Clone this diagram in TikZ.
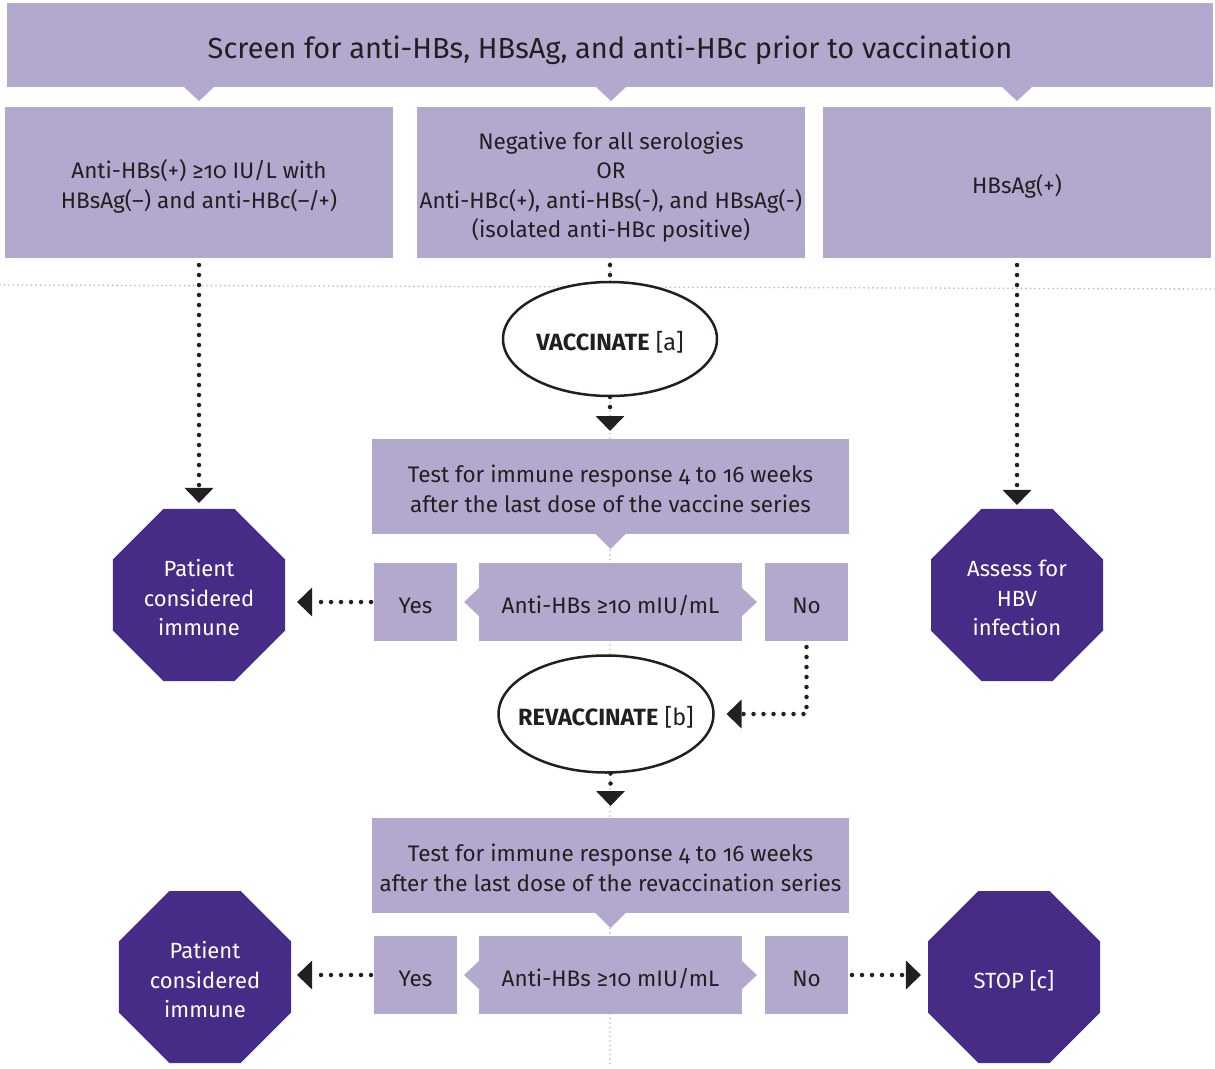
\documentclass[tikz,border=0pt]{standalone}
\usepackage{fontspec}
\setmainfont{Fira Sans}[Numbers=OldStyle]
\usetikzlibrary{shapes.geometric,arrows.meta,calc}
\definecolor{lp}{RGB}{179,169,206}
\definecolor{dp}{RGB}{70,44,135}
\definecolor{tx}{RGB}{35,31,32}
\definecolor{gr}{RGB}{185,185,185}
\newcommand{\tp}{\rule{0pt}{27pt}}
\newcommand{\tpt}{\rule{0pt}{32pt}}
\begin{document}
\begin{tikzpicture}[x=1pt,y=-1pt,
  box/.style={fill=lp, text=tx, inner sep=0pt, outer sep=0pt, align=center,
    text depth=5pt, font=\fontsize{22.5}{29.5}\selectfont},
  oct/.style={regular polygon, regular polygon sides=8, minimum size=186.2pt,
    fill=dp, text=white, inner sep=0pt, outer sep=0pt, align=center,
    text depth=5pt, font=\fontsize{22}{29.5}\selectfont},
  oval/.style={ellipse, draw=tx, line width=2.5pt, fill=white, inner sep=0pt,
    outer sep=0pt, text=tx, text depth=5pt, font=\fontsize{23.5}{28}\selectfont},
  blk/.style={draw=tx, line width=4.5pt, line cap=round, dash pattern=on 0pt off 10pt},
  arr/.style={-{Triangle[width=28pt,length=15pt]}},
  gdot/.style={draw=gr, line width=1.8pt, line cap=round, dash pattern=on 0pt off 4.5pt}]
\useasboundingbox (0,0) rectangle (1215,1068);
\fill[white] (0,0) rectangle (1215,1068);

% background grey dotted guide lines
\draw[gdot] (0,285) -- (1215,289);
\draw[gdot] (610,258) -- (610,1068);

% top banner
\node[box, minimum width=1206pt, minimum height=84pt, text depth=6pt, font=\fontsize{29}{34}\selectfont]
  (top) at (610,45) {\tpt Screen for anti-HBs, HBsAg, and anti-HBc prior to vaccination};

% row of three boxes
\node[box, minimum width=388pt, minimum height=151pt] (lbox) at (199,182.5)
  {\tp Anti-HBs(+) ≥10 IU/L with\\HBsAg(–) and anti-HBc(–/+)};
\node[box, minimum width=388pt, minimum height=151pt] (mbox) at (611,182.5)
  {\tp Negative for all serologies\\OR\\Anti-HBc(+), anti-HBs(-), and HBsAg(-)\\(isolated anti-HBc positive)};
\node[box, minimum width=388pt, minimum height=151pt] (rbox) at (1017,182.5)
  {\tp HBsAg(+)};

\foreach \b in {lbox,mbox,rbox}{
  \fill[lp] ($(top.south -| \b.north)+(-15,0)$) -- ++(15,14) -- ++(15,-14) -- cycle;
}

% vaccinate
\node[oval, minimum width=214pt, minimum height=114pt] (vacc) at (610,339)
  {\tp\makebox[0pt]{\textbf{VACCINATE} [a]}};

% first test
\node[box, minimum width=477pt, minimum height=95pt] (test1) at (610.5,486.5)
  {\tp Test for immune response 4 to 16 weeks\\after the last dose of the vaccine series};
\fill[lp] ($(test1.south)+(-15,0)$) -- ++(15,15) -- ++(15,-15) -- cycle;

\node[box, minimum width=83pt, minimum height=78pt] (yes1) at (415.5,602) {\tp Yes};
\node[box, minimum width=263pt, minimum height=78pt] (anti1) at (610.5,602) {\tp Anti-HBs ≥10 mIU/mL};
\node[box, minimum width=83pt, minimum height=78pt] (no1) at (806.5,602) {\tp No};
\fill[lp] ($(anti1.west)+(0,-14)$) -- ++(-15,14) -- ++(15,14) -- cycle;
\fill[lp] ($(anti1.east)+(0,-14)$) -- ++(15,14) -- ++(-15,14) -- cycle;

\node[oct] (oct1) at (199,595) {\tp Patient\\considered\\immune};
\node[oct] (oct2) at (1017,595) {\tp Assess for\\HBV\\infection};

% revaccinate
\node[oval, minimum width=215pt, minimum height=117pt] (revacc) at (606,714)
  {\tp\makebox[0pt]{\textbf{REVACCINATE} [b]}};

% second test
\node[box, minimum width=477pt, minimum height=95pt] (test2) at (610.5,865.5)
  {\tp Test for immune response 4 to 16 weeks\\after the last dose of the revaccination series};
\fill[lp] ($(test2.south)+(-15,0)$) -- ++(15,15) -- ++(15,-15) -- cycle;

\node[box, minimum width=83pt, minimum height=78pt] (yes2) at (415.5,975) {\tp Yes};
\node[box, minimum width=263pt, minimum height=78pt] (anti2) at (610.5,975) {\tp Anti-HBs ≥10 mIU/mL};
\node[box, minimum width=83pt, minimum height=78pt] (no2) at (806.5,975) {\tp No};
\fill[lp] ($(anti2.west)+(0,-14)$) -- ++(-15,14) -- ++(15,14) -- cycle;
\fill[lp] ($(anti2.east)+(0,-14)$) -- ++(15,14) -- ++(-15,14) -- cycle;

\node[oct] (oct3) at (205,977) {\tp Patient\\considered\\immune};
\node[oct] (stop) at (1014,977) {\tp STOP [c]};

% black dotted connectors
\draw[blk, arr, shorten <=7pt, shorten >=6pt] (lbox.south) -- (oct1.north);
\draw[blk, arr, shorten <=7pt, shorten >=4pt] (rbox.south -| oct2.north) -- (oct2.north);
\draw[blk, shorten <=7pt, shorten >=3pt] (mbox.south -| vacc.north) -- (vacc.north);
\draw[blk, arr, shorten <=1pt, shorten >=8pt] (vacc.south) -- (test1.north -| vacc.south);
\draw[blk, arr, shorten <=3pt, shorten >=12pt] (yes1.west) -- (yes1.west -| oct1.east);
\draw[blk, arr, shorten <=6pt, shorten >=13pt] (no1.south) |- (revacc.east);
\draw[blk, arr, shorten <=1pt, shorten >=12pt] (revacc.south -| test2.north) -- (test2.north);
\draw[blk, arr, shorten <=3pt, shorten >=6pt] (yes2.west) -- (yes2.west -| oct3.east);
\draw[blk, arr, shorten <=4pt, shorten >=7pt] (no2.east) -- (no2.east -| stop.west);
\end{tikzpicture}
\end{document}
